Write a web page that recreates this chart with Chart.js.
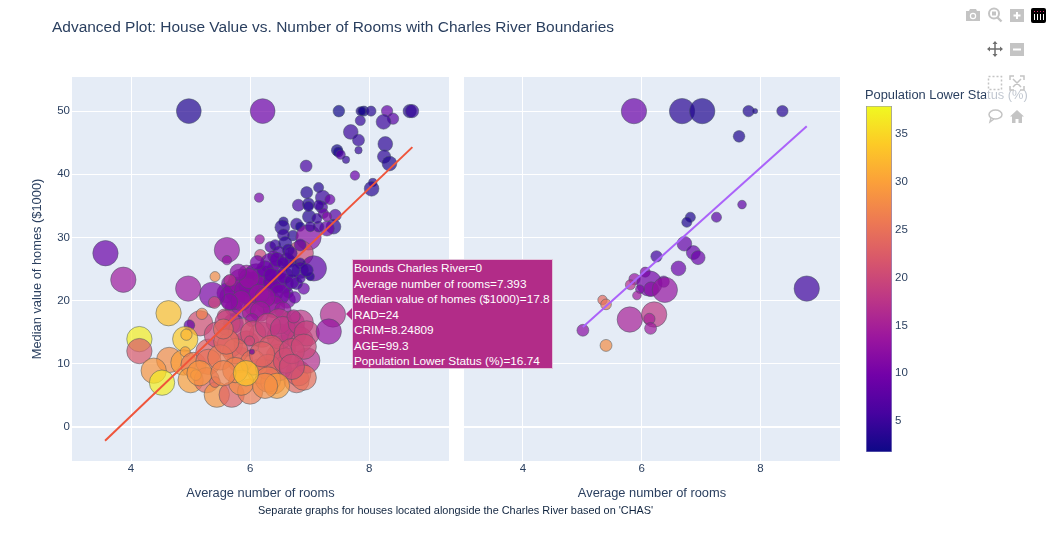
<!DOCTYPE html>
<html>
<head>
<meta charset="utf-8">
<title>House Value vs. Number of Rooms</title>
<script src="https://cdn.jsdelivr.net/npm/chart.js@4.4.0/dist/chart.umd.js"></script>
<style>
html, body { margin: 0; padding: 0; background: #fff; overflow: hidden; }
body { width: 1050px; height: 533px; position: relative; font-family: "Liberation Sans", Arial, sans-serif; color: #2a3f5f; }
canvas { position: absolute; }
.txt { position: absolute; white-space: nowrap; }
#title { left: 52px; top: 18px; font-size: 15.48px; line-height: 18px; }
#note { left: 258px; top: 503px; font-size: 10.92px; line-height: 14px; color: #10243f; }
#cbtitle { left: 865px; top: 87px; font-size: 12.85px; line-height: 16px; }
#veil { position: absolute; left: 986px; top: 72px; width: 44px; height: 54px; background: rgba(255,255,255,.7); }
#hover { position: absolute; display: none; width: 201px; height: 110px; background: #b22c88; border: 1px solid #e3c3da; color: #fff; font-size: 11.8px; line-height: 15.5px; padding: 1px 0 0 1px; white-space: nowrap; box-sizing: border-box; }
#hover:before { content: ""; position: absolute; left: -7px; top: 48px; border-style: solid; border-width: 6px 6px 6px 0; border-color: transparent #b22c88 transparent transparent; }
svg.ic { position: absolute; width: 16px; height: 16px; }
</style>
</head>
<body>
<canvas id="left"></canvas>
<canvas id="right"></canvas>
<canvas id="bar"></canvas>
<div class="txt" id="title">Advanced Plot: House Value vs. Number of Rooms with Charles River Boundaries</div>
<div class="txt" id="note">Separate graphs for houses located alongside the Charles River based on 'CHAS'</div>
<div class="txt" id="cbtitle">Population Lower Status (%)</div>
<div id="veil"></div>
<div id="hover"></div>

<svg class="ic" style="left:965px;top:7px" viewBox="0 0 16 16"><path fill="#c4c4c4" d="M1 4h3l1-2h6l1 2h3v10H1z"/><circle cx="8" cy="9" r="3.2" fill="#fff"/><circle cx="8" cy="9" r="2" fill="#c4c4c4"/></svg>
<svg class="ic" style="left:987px;top:7px" viewBox="0 0 16 16"><circle cx="7" cy="6.5" r="5" fill="none" stroke="#c4c4c4" stroke-width="2"/><path d="M5 4.5h4v4H5z" fill="#c4c4c4"/><path d="M10.5 10.5l4 4" stroke="#c4c4c4" stroke-width="2.4"/></svg>
<svg class="ic" style="left:1009px;top:7px" viewBox="0 0 16 16"><path fill="#c4c4c4" d="M1 2h14v13H1z"/><path fill="#fff" d="M7 5h2v2.5h2.500v2H9V12H7V9.500H4.500v-2H7z"/></svg>
<svg class="ic" style="left:1031px;top:8px" viewBox="0 0 16 16"><rect x="0" y="0" width="15" height="15" rx="2" fill="#000"/><path fill="#fff" d="M3 6h1v6H3zM6 6h1v6H6zM9 6h1v6H9zM12 6h1v6h-1z"/><path fill="#e0307a" d="M3 3h1v1H3zM6 3h1v1H6zM9 3h1v1H9zM12 3h1v1h-1z"/></svg>
<svg class="ic" style="left:987px;top:41px" viewBox="0 0 16 16"><path d="M8 1v14M1 8h14" stroke="#6f6f6f" stroke-width="1.500"/><path fill="#6f6f6f" d="M8 0l2.500 3h-5zM8 16l2.500-3h-5zM0 8l3-2.500v5zM16 8l-3-2.500v5z"/></svg>
<svg class="ic" style="left:1009px;top:41px" viewBox="0 0 16 16"><path fill="#c4c4c4" d="M1 2h14v13H1z"/><path fill="#fff" d="M4 7.500h8v2H4z"/></svg>
<svg class="ic" style="left:987px;top:75px" viewBox="0 0 16 16"><rect x="1.500" y="1.500" width="13" height="13" fill="none" stroke="#c4c4c4" stroke-width="1.500" stroke-dasharray="2 2"/></svg>
<svg class="ic" style="left:1009px;top:75px" viewBox="0 0 16 16"><path d="M1 5V1h4M11 1h4v4M15 11v4h-4M5 15H1v-4M4 4l8 8M12 4l-8 8" fill="none" stroke="#c4c4c4" stroke-width="1.500"/></svg>
<svg class="ic" style="left:987px;top:108px" viewBox="0 0 16 16"><ellipse cx="8.500" cy="6.500" rx="6.500" ry="4.500" fill="none" stroke="#c4c4c4" stroke-width="1.500"/><path d="M4 10l-1 4 4-3" fill="none" stroke="#c4c4c4" stroke-width="1.500"/></svg>
<svg class="ic" style="left:1009px;top:108px" viewBox="0 0 16 16"><path fill="#c4c4c4" d="M8 2L1 8.500h2V15h3.500v-4h3v4H13V8.500h2z"/></svg>

<script>
// CHAS = 0
const leftRooms = [
  4.97, 6.21, 7.49, 7.85, 7.91, 7.88, 8.03, 8.30, 8.40, 8.68,
  8.72, 7.85, 8.24, 7.69, 7.82, 8.27, 7.46, 7.48, 7.52, 7.61,
  7.82, 8.25, 8.34, 6.94, 7.76, 8.06, 8.04, 6.15, 7.15, 6.95,
  7.22, 7.34, 6.81, 6.98, 7.20, 7.23, 6.99, 7.43, 7.40, 7.29,
  6.56, 6.54, 6.78, 6.84, 6.72, 6.56, 6.98, 6.85, 7.07, 6.16,
  6.17, 5.61, 5.61, 3.57, 3.87, 6.34, 6.42, 6.59, 6.48, 6.64,
  6.84, 7.15, 7.12, 7.29, 7.01, 7.15, 6.98, 6.39, 6.67, 6.84,
  5.94, 6.22, 6.45, 6.34, 6.62, 6.84, 7.01, 6.90, 6.78, 6.56,
  6.64, 6.62, 6.34, 6.00, 5.78, 5.66, 5.61, 6.11, 5.89, 5.72,
  5.70, 5.85, 6.02, 6.10, 6.25, 6.30, 6.42, 6.50, 6.05, 5.95,
  6.58, 6.70, 6.72, 6.45, 6.25, 6.12, 5.98, 5.80, 6.40, 6.55,
  6.75, 6.85, 6.95, 6.68, 6.55, 6.35, 6.15, 5.85, 5.65, 6.25,
  6.17, 5.66, 5.41, 5.36, 5.40, 4.96, 6.03, 5.72, 5.56, 4.63,
  5.16, 5.19, 4.98, 4.14, 4.14, 4.91, 4.93, 4.64, 4.38, 4.52,
  4.88, 4.91, 5.05, 5.00, 5.30, 5.30, 5.27, 5.44, 5.69, 6.00,
  5.41, 5.09, 6.17, 6.55, 6.39, 6.78, 6.81, 6.96, 6.48, 6.48,
  5.83, 5.44, 5.66, 5.94, 6.20, 6.50, 6.73, 6.70, 6.48, 6.84,
  5.62, 5.85, 6.05, 6.30, 6.55, 6.85, 6.95, 6.35, 5.75, 6.05, 5.50, 5.60,
  6.30, 6.60, 6.70, 6.90, 6.90, 5.85, 5.15, 6.30, 6.70, 6.45, 6.25,
  7.39, 7.32, 6.73, 5.55, 5.75, 5.55, 6.20, 5.93, 5.99, 6.03
];
const leftValue = [
  50, 50, 50, 50, 50, 50, 50, 50, 48.8, 50,
  50, 48.5, 48.3, 46.7, 45.4, 44.8, 43.8, 43.5, 43.1, 42.3,
  43.8, 42.8, 41.7, 41.3, 39.8, 38.7, 37.7, 36.3, 37.9, 37.1,
  36.3, 36, 35.1, 35.3, 34.8, 33.8, 33.3, 33.5, 31.7, 31.4,
  32.5, 31.6, 32.1, 31.7, 30.3, 30.4, 30, 27.5, 25.1, 29.7,
  27.2, 28, 26.4, 27.5, 23.3, 28.5, 28.8, 29.1, 27.7, 28,
  28.8, 31.7, 33, 33.3, 31.7, 35.1, 34.9, 27, 26.2, 25.9,
  24.3, 23.5, 24.8, 25.9, 26.4, 24.8, 23.8, 21.9, 22.7, 22.7,
  21.2, 20.1, 21.4, 20.9, 21.7, 22.7, 21.2, 19.3, 19.3, 18.8,
  20.5, 23, 22.5, 24, 22, 19.8, 23, 21, 18.2, 21.5,
  24, 23, 24.8, 26.5, 25, 26, 23.5, 24.5, 19, 18.5,
  20.5, 23.5, 24.8, 27.5, 26, 24, 21, 20, 19.8, 20.5,
  18.3, 23.2, 23.8, 20.9, 19.7, 21.9, 16.9, 16.4, 17.6, 18,
  16.4, 17.9, 16.1, 13.9, 12, 13.9, 14.6, 10.6, 8.9, 7,
  10.2, 11.9, 9.8, 7.4, 11.9, 10.3, 7.4, 5.1, 5.1, 5.6,
  7.1, 8.2, 8.8, 12.5, 7.2, 7.4, 8.5, 10.5, 9.3, 11.1,
  10.6, 14.6, 13, 13.2, 14.6, 14.3, 14.8, 16.4, 16.7, 13.8,
  16.5, 15.2, 14.8, 16, 15.5, 16.5, 14.8, 12.5, 12, 10.2, 11, 13.5,
  9.5, 10.5, 12, 12.7, 7.8, 7, 8.5, 7.5, 9.5, 6.5, 6.5,
  17.8, 15.1, 17.5, 15.5, 9, 8.5, 11.5, 8.5, 13.6, 11.9
];
const leftAge = [
  91, 91, 20, 11, 15, 11, 15, 19, 19, 26,
  26, 15, 32, 32, 21, 32, 19, 15, 13, 8,
  8, 26, 32, 21, 13, 10, 32, 13, 15, 21,
  32, 15, 21, 21, 21, 15, 26, 21, 32, 32,
  13, 32, 21, 13, 17, 21, 95, 95, 95, 13,
  19, 95, 13, 95, 95, 17, 17, 26, 21, 21,
  21, 17, 15, 13, 15, 15, 15, 19, 21, 17,
  41, 95, 59, 59, 32, 41, 10, 19, 21, 59,
  15, 41, 95, 59, 95, 41, 59, 95, 95, 41,
  95, 95, 95, 80, 95, 95, 80, 60, 70, 95,
  40, 30, 30, 30, 40, 30, 60, 40, 70, 40,
  20, 12, 25, 25, 20, 30, 60, 60, 40, 60,
  59, 21, 15, 95, 21, 95, 26, 59, 26, 95,
  95, 19, 17, 95, 95, 95, 19, 95, 95, 95,
  95, 15, 95, 95, 95, 95, 95, 95, 95, 95,
  17, 17, 95, 95, 95, 95, 95, 95, 95, 95,
  95, 95, 95, 95, 95, 95, 95, 95, 95, 95,
  95, 95, 95, 95, 95, 95, 95, 95, 95, 95, 95, 95,
  95, 95, 95, 95, 95, 95, 95, 95, 95, 95, 95,
  95, 95, 26, 59, 95, 95, 95, 95, 15, 4
];
const leftLstat = [
  3.3, 9.5, 1.9, 3.5, 2.5, 2.5, 3.5, 8.5, 7.5, 3.5,
  4.5, 4.5, 5, 5, 4.5, 4, 2.5, 2.5, 7, 4.5,
  4.5, 4, 3, 6, 9, 3.5, 3.5, 10.5, 3.5, 3.5,
  5, 9, 6, 3.5, 6, 8, 3.5, 7, 4, 9,
  3.5, 4, 4.5, 3, 3.5, 5, 12, 20, 8, 13,
  20, 13, 13, 9, 14, 7, 5, 4, 6, 5,
  7, 6, 5, 11, 5, 5, 4, 9, 6, 4,
  14, 12, 10, 9, 7, 6, 3.5, 9, 6, 8,
  8, 11, 11, 12, 12, 11, 11, 14, 14, 13,
  12, 13, 11, 10, 12, 14, 9, 10, 15, 12,
  8, 7, 5, 8, 9, 10, 13, 12, 13, 13,
  9, 6, 5, 6, 7, 9, 13, 13, 12, 13,
  14, 17, 28, 11, 20, 14, 13, 9, 20, 33,
  21, 27, 8, 37, 22, 34, 32, 28, 29, 37,
  30, 30, 26, 30, 23, 25, 24, 29, 23, 26,
  24, 30, 27, 19, 27, 24, 22, 17, 18, 22,
  25, 20, 22, 20, 20, 19, 18, 17, 18, 20,
  19, 20, 21, 19, 18, 18, 19, 22, 24, 25, 26, 24,
  24, 21, 20, 20, 25, 28, 29, 26, 20, 30, 28,
  16.74, 13, 17, 24, 27, 27, 23, 34, 20, 9
];

// CHAS = 1
const rightRooms = [
  5.87, 6.68, 7.02, 7.80, 7.91, 8.37, 7.64, 7.69, 7.26, 6.82,
  6.76, 6.72, 6.87, 6.95, 6.25, 6.62, 6.06, 5.88, 5.81, 6.13,
  6.16, 6.37, 6.39, 5.97, 5.92, 8.78, 5.34, 5.40, 5.80, 6.21,
  6.13, 6.15, 5.01, 5.40
];
const rightValue = [
  50, 50, 50, 50, 50, 50, 46, 35.2, 33.2, 33.2,
  32.4, 29, 27.6, 26.8, 27, 25.1, 24.5, 23.4, 22.5, 22.7,
  21.8, 23, 21.7, 21.8, 20.8, 21.9, 20.1, 19.4, 17, 17.8,
  17.1, 15.6, 15.3, 12.9
];
const rightAge = [
  95, 95, 95, 19, 4, 19, 20, 11, 15, 15,
  15, 32, 29, 29, 19, 32, 15, 19, 15, 95,
  32, 19, 95, 11, 11, 95, 13, 17, 95, 95,
  19, 21, 21, 21
];
const rightLstat = [
  9, 3.7, 3, 3, 3, 3.5, 3, 8, 7.5, 3,
  3, 8.5, 8.5, 9, 5.5, 9, 11, 13, 17, 10,
  12, 10, 13, 11, 14, 5.3, 24, 25, 15, 18,
  15, 14, 12, 28
];

const leftTrendX = [3.563, 8.725];
const leftTrendY = [-2.2, 44.3];
const rightTrendX = [5.01, 8.78];
const rightTrendY = [15.8, 47.6];

const xTickValues = [4, 6, 8];
const yTickValues = [0, 10, 20, 30, 40, 50];
const barTickValues = [5, 10, 15, 20, 25, 30, 35];
const lstatMin = 1.73, lstatMax = 37.97;

const hoverLines = [
  'Bounds Charles River=0',
  'Average number of rooms=7.393',
  'Median value of homes ($1000)=17.8',
  'RAD=24',
  'CRIM=8.24809',
  'AGE=99.3',
  'Population Lower Status (%)=16.74'
];

const plasma = [[13,8,135],[70,3,159],[114,1,168],[156,23,158],[189,55,134],[216,87,107],[237,121,83],[251,159,58],[253,202,38],[240,249,33]];
const tickColor = '#2a3f5f', fontFamily = '"Liberation Sans", Arial, sans-serif';

function plasmaAt(t, alpha) {
    const p = Math.min(Math.max(t, 0), 1) * (plasma.length - 1);
    const i = Math.min(Math.floor(p), plasma.length - 2), f = p - i;
    const c = plasma[i].map((v, k) => Math.round(v + (plasma[i + 1][k] - v) * f));
    return `rgba(${c[0]},${c[1]},${c[2]},${alpha})`;
}
const lstatColor = (v, a) => plasmaAt((v - lstatMin) / (lstatMax - lstatMin), a);

function setBox(id, left, top, w, h) {
    const c = document.getElementById(id);
    c.style.left = left + 'px'; c.style.top = top + 'px';
    c.style.width = w + 'px'; c.style.height = h + 'px';
    c.width = w; c.height = h;
    return c;
}

function showHover(ctx) {
    const el = document.getElementById('hover'), t = ctx.tooltip;
    if (!t.body || !t.body.length) { el.style.display = 'none'; return; }
    el.innerHTML = t.body[0].lines.map((l) => `<div>${l}</div>`).join('');
    el.style.display = 'block';
    el.style.left = (t.caretX + 19) + 'px';
    el.style.top = (t.caretY - 55) + 'px';
}

const plotBackground = {
    id: 'plotBackground',
    beforeDraw(chart) {
        const a = chart.chartArea;
        chart.ctx.fillStyle = '#E5ECF6';
        chart.ctx.fillRect(a.left, a.top, a.width, a.height);
    }
};

function panel(id, left, width, rooms, value, age, lstat, trendX, trendY, trendColor, withY) {
    const canvas = setBox(id, left, 0, width, 533);
    return new Chart(canvas, {
        type: 'scatter',
        plugins: [plotBackground],
        data: {
            datasets: [
                {
                    data: trendX.map((x, i) => ({ x, y: trendY[i] })),
                    showLine: true, borderColor: trendColor, borderWidth: 2, pointRadius: 0, order: 0
                },
                {
                    data: rooms.map((x, i) => ({ x, y: value[i] })),
                    order: 1,
                    pointRadius: age.map((a) => 13 * Math.sqrt(a / 100)),
                    backgroundColor: lstat.map((v) => lstatColor(v, 0.7)),
                    borderColor: 'rgba(70,85,95,.5)', borderWidth: 1
                }
            ]
        },
        options: {
            responsive: false, animation: false, events: [],
            layout: { autoPadding: false, padding: { top: 77, left: 0, right: 0, bottom: 0 } },
            plugins: {
                legend: { display: false },
                tooltip: {
                    enabled: false, external: showHover,
                    callbacks: { title: () => '', label: () => hoverLines }
                }
            },
            scales: {
                x: {
                    type: 'linear', min: 3.008, max: 9.34,
                    afterBuildTicks: (s) => { s.ticks = xTickValues.map((value) => ({ value })); },
                    afterFit: (s) => { s.height = 72; },
                    grid: { color: '#fff', lineWidth: 1, drawTicks: false },
                    border: { display: false },
                    ticks: { color: tickColor, font: { family: fontFamily, size: 11.500 }, padding: 1, maxRotation: 0 },
                    title: { display: true, text: 'Average number of rooms', color: tickColor, font: { family: fontFamily, size: 12.85 }, padding: { top: 9, bottom: 32 } }
                },
                y: {
                    type: 'linear', min: -5.4, max: 55.4,
                    afterBuildTicks: (s) => { s.ticks = yTickValues.map((value) => ({ value })); },
                    afterFit: (s) => { s.width = withY ? 72 : 0; },
                    grid: { color: '#fff', lineWidth: (c) => (c.tick && c.tick.value === 0 ? 2 : 1), drawTicks: false },
                    border: { display: false },
                    ticks: { display: withY, color: tickColor, font: { family: fontFamily, size: 11.500 }, padding: 2 },
                    title: { display: withY, text: 'Median value of homes ($1000)', color: tickColor, font: { family: fontFamily, size: 12.85 }, padding: { top: 30, bottom: 10 } }
                }
            }
        }
    });
}

const leftChart = panel('left', 0, 449, leftRooms, leftValue, leftAge, leftLstat, leftTrendX, leftTrendY, '#EF553B', true);
panel('right', 464, 376, rightRooms, rightValue, rightAge, rightLstat, rightTrendX, rightTrendY, '#AB63FA', false);

// colour bar is a single floating bar with the plasma ramp as fill
new Chart(setBox('bar', 860, 96, 60, 366), {
    type: 'bar',
    data: { labels: [''], datasets: [{ data: [[lstatMin, lstatMax]], barPercentage: 1, categoryPercentage: 1, borderWidth: 1, borderSkipped: false, borderColor: 'rgba(90,90,170,.7)',
        backgroundColor: (c) => {
            const a = c.chart.chartArea;
            if (!a) return '#000';
            const g = c.chart.ctx.createLinearGradient(0, a.bottom, 0, a.top);
            plasma.forEach((p, i) => g.addColorStop(i / (plasma.length - 1), `rgb(${p[0]},${p[1]},${p[2]})`));
            return g;
        } }] },
    options: {
        responsive: false, animation: false, events: [],
        layout: { autoPadding: false, padding: { left: 6, top: 6, bottom: 7, right: 0 } },
        plugins: { legend: { display: false }, tooltip: { enabled: false } },
        scales: {
            x: { display: false },
            y: {
                position: 'right', min: lstatMin, max: lstatMax,
                afterBuildTicks: (s) => { s.ticks = barTickValues.map((value) => ({ value })); },
                afterFit: (s) => { s.width = 28; },
                grid: { display: false, drawTicks: false }, border: { display: false },
                ticks: { color: tickColor, font: { family: fontFamily, size: 11.500 }, padding: 3 }
            }
        }
    }
});

const hoverIndex = leftLstat.indexOf(16.74);
leftChart.tooltip.setActiveElements([{ datasetIndex: 1, index: hoverIndex }], { x: 0, y: 0 });
leftChart.update();
</script>
</body>
</html>
